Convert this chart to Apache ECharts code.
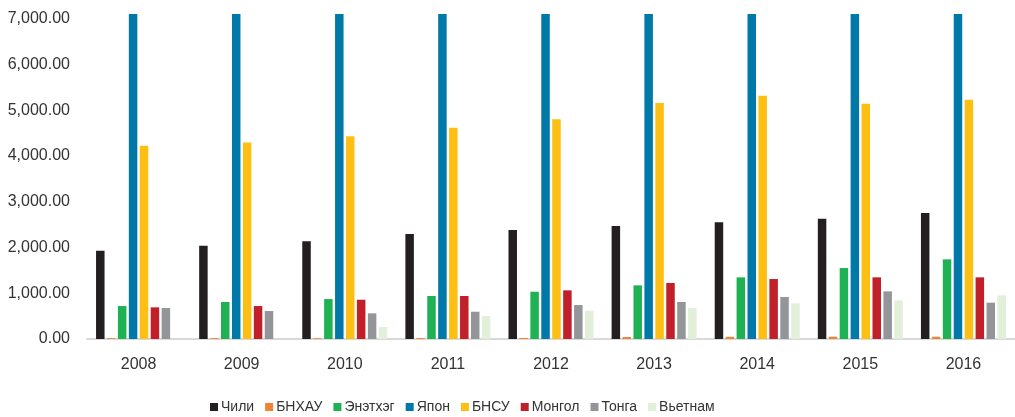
<!DOCTYPE html>
<html>
<head>
<meta charset="utf-8">
<script src="https://cdn.jsdelivr.net/npm/echarts@6/dist/echarts.min.js"></script>
<style>
  html, body { margin: 0; padding: 0; background: #fff; }
  #chart { width: 1015px; height: 417px; }
</style>
</head>
<body>
<div id="chart"></div>
<script>
// Years on the category axis
const years = ['2008', '2009', '2010', '2011', '2012', '2013', '2014', '2015', '2016'];

// Values per country, one array each
const chile    = [1928, 2037, 2133, 2293, 2380, 2467, 2548, 2627, 2751];
const china    = [18, 18, 18, 20, 22, 44, 48, 50, 50];
const india    = [720, 808, 873, 939, 1033, 1172, 1347, 1550, 1740];
const japan    = [7100, 7100, 7100, 7100, 7100, 7100, 7100, 7100, 7100];
const korea    = [4220, 4295, 4432, 4614, 4803, 5153, 5313, 5138, 5225];
const mongolia = [692, 720, 858, 939, 1063, 1223, 1310, 1347, 1347];
const tonga    = [677, 611, 561, 596, 742, 808, 917, 1041, 793];
const vietnam  = [0, 0, 262, 502, 618, 677, 779, 845, 954];

const seriesNames  = ['Чили', 'БНХАУ', 'Энэтхэг', 'Япон', 'БНСУ', 'Монгол', 'Тонга', 'Вьетнам'];
const seriesData   = [chile, china, india, japan, korea, mongolia, tonga, vietnam];
const seriesColors = ['#231f20', '#f08434', '#1fb254', '#0079a8', '#fdbf14', '#c1202b', '#939598', '#e2efd9'];

const FONT = '"Liberation Sans Narrow", "Liberation Sans", Arial, sans-serif';
const TEXT = '#333333';

const chart = echarts.init(document.getElementById('chart'), null, { renderer: 'canvas' });

chart.setOption({
  animation: false,
  backgroundColor: '#ffffff',
  color: seriesColors,
  grid: { left: 87, right: -6, top: 14, bottom: 78, containLabel: false },
  legend: {
    left: 205,
    top: 395,
    icon: 'rect',
    itemWidth: 8,
    itemHeight: 8,
    itemGap: 11,
    textStyle: { fontFamily: FONT, fontSize: 14, color: TEXT, padding: [0, 0, 0, -2] },
    data: seriesNames
  },
  xAxis: {
    type: 'category',
    data: years,
    axisLine: { show: true, lineStyle: { color: '#d9d9d9', width: 2 } },
    axisTick: { show: false },
    axisLabel: { fontFamily: FONT, fontSize: 16, color: TEXT, margin: 18 }
  },
  yAxis: {
    type: 'value',
    min: 0,
    max: 7100,
    interval: 1000,
    axisLine: { show: false },
    axisTick: { show: false },
    splitLine: { show: false },
    axisLabel: {
      fontFamily: FONT,
      fontSize: 16,
      color: TEXT,
      margin: 17,
      formatter: function (v) {
        if (v % 1000 !== 0) return '';
        return v.toLocaleString('en-US', { minimumFractionDigits: 2, maximumFractionDigits: 2 });
      }
    }
  },
  series: seriesNames.map(function (name, i) {
    return {
      name: name,
      type: 'bar',
      data: seriesData[i],
      barWidth: 8.5,
      barGap: '28.6%',
      clip: true,
      itemStyle: { color: seriesColors[i] }
    };
  })
});
</script>
</body>
</html>
